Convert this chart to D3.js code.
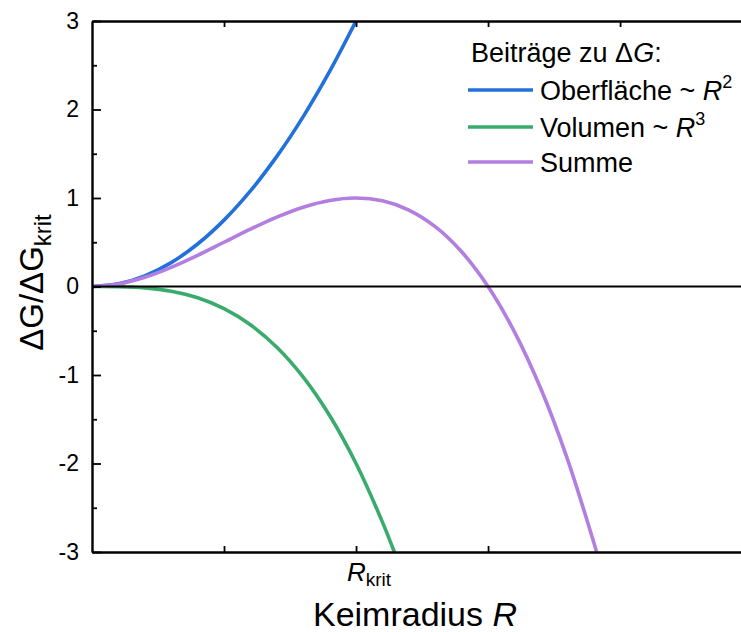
<!DOCTYPE html>
<html>
<head>
<meta charset="utf-8">
<script src="https://cdn.jsdelivr.net/npm/d3@7"></script>
<style>
  body { margin: 0; background: #fff; }
  svg { font-family: "Liberation Sans", Arial, sans-serif; }
</style>
</head>
<body>
<svg id="chart" width="741" height="632"></svg>
<script>
"use strict";

// R / R_krit sample points and values (ΔG / ΔG_krit)
const surfaceR = [0, 0.1, 0.2, 0.3, 0.4, 0.5, 0.6, 0.7, 0.8, 0.9, 1.0];
const surfaceG = [0, 0.03, 0.12, 0.27, 0.48, 0.75, 1.08, 1.47, 1.92, 2.43, 3.0];

const volumeR = [0, 0.1, 0.2, 0.3, 0.4, 0.5, 0.6, 0.7, 0.8, 0.9, 1.0, 1.1, 1.145];
const volumeG = [0, -0.002, -0.016, -0.054, -0.128, -0.25, -0.432, -0.686, -1.024, -1.458, -2.0, -2.662, -3.0];

const sumR = [0, 0.1, 0.2, 0.3, 0.4, 0.5, 0.6, 0.7, 0.8, 0.9, 1.0, 1.1, 1.2, 1.3, 1.4, 1.5, 1.6, 1.7, 1.8, 1.9, 1.911];
const sumG = [0, 0.028, 0.104, 0.216, 0.352, 0.5, 0.648, 0.784, 0.896, 0.972, 1.0, 0.968, 0.864, 0.676, 0.392, 0, -0.512, -1.156, -1.944, -2.888, -3.0];

const yTicks = [-3, -2, -1, 0, 1, 2, 3];
const yMinorTicks = [-2.5, -1.5, -0.5, 0.5, 1.5, 2.5];
const xTopTicks = [0.5, 1, 1.5, 2];
const xBottomTicks = [0.5, 1, 1.5];

const series = [
    {name: "Oberfläche ~ ", sup: "2", r: surfaceR, g: surfaceG, color: "#2270dc"},
    {name: "Volumen ~ ", sup: "3", r: volumeR, g: volumeG, color: "#3aab6c"},
    {name: "Summe", sup: null, r: sumR, g: sumG, color: "#b27ee0"}
];

const margin = {top: 21, right: 0, bottom: 80, left: 92},
    width = 741 - margin.left - margin.right,
    height = 632 - margin.top - margin.bottom;

const svg = d3.select("#chart");
const plot = svg.append("g")
    .attr("transform", `translate(${margin.left},${margin.top})`);

const x = d3.scaleLinear().domain([0, 2.458]).range([0, width]);
const y = d3.scaleLinear().domain([-3, 3]).range([height, 0]);

plot.append("clipPath").attr("id", "clip")
    .append("rect").attr("width", width).attr("height", height);

// curves
const line = d3.line()
    .x((d) => x(d[0]))
    .y((d) => y(d[1]))
    .curve(d3.curveCatmullRom);

series.forEach((s) => {
    plot.append("path")
        .datum(s.r.map((r, i) => [r, s.g[i]]))
        .attr("clip-path", "url(#clip)")
        .attr("fill", "none")
        .attr("stroke", s.color)
        .attr("stroke-width", 3.6)
        .attr("d", line);
});

// zero line
plot.append("line")
    .attr("x1", 0).attr("x2", width)
    .attr("y1", y(0)).attr("y2", y(0))
    .attr("stroke", "#000").attr("stroke-width", 2.2);

// left axis, ticks pointing inward
const yAxis = plot.append("g")
    .call(d3.axisLeft(y).tickValues(yTicks).tickSize(-9).tickSizeOuter(0).tickPadding(13)
        .tickFormat((d) => `${d}`));
yAxis.attr("font-size", null).attr("font-family", null);
yAxis.selectAll("text").style("font-size", "23px");
plot.append("g")
    .call(d3.axisLeft(y).tickValues(yMinorTicks).tickSize(-5).tickSizeOuter(0).tickFormat(""))
    .select(".domain").remove();

// top frame
plot.append("g")
    .call(d3.axisTop(x).tickValues(xTopTicks).tickSize(-6).tickSizeOuter(0).tickFormat(""));

// bottom axis
plot.append("g")
    .attr("transform", `translate(0,${height})`)
    .call(d3.axisBottom(x).tickValues(xBottomTicks).tickSize(-6).tickSizeOuter(0).tickFormat(""));

plot.selectAll(".domain").attr("stroke-width", 2.4);
plot.selectAll(".tick line").attr("stroke-width", 1.8);

// R_krit tick label
const rk = plot.append("text")
    .attr("x", x(1) + 13).attr("y", height + 29)
    .attr("text-anchor", "middle")
    .style("font-size", "26px");
rk.append("tspan").attr("font-style", "italic").text("R");
rk.append("tspan").style("font-size", "19px").attr("dy", 5).text("krit");

// axis titles
const xt = svg.append("text")
    .attr("x", 415).attr("y", 626)
    .attr("text-anchor", "middle")
    .style("font-size", "34px");
xt.append("tspan").text("Keimradius ");
xt.append("tspan").attr("font-style", "italic").text("R");

const yt = svg.append("text")
    .attr("transform", `translate(43,${margin.top + y(0) - 4}) rotate(-90)`)
    .attr("text-anchor", "middle")
    .style("font-size", "33px");
yt.append("tspan").text("ΔG/ΔG");
yt.append("tspan").style("font-size", "24px").attr("dy", 8).text("krit");

// legend
const legend = svg.append("g").attr("transform", "translate(468,0)");
const lt = legend.append("text")
    .attr("x", 3).attr("y", 62)
    .style("font-size", "27px");
lt.append("tspan").text("Beiträge zu Δ");
lt.append("tspan").attr("font-style", "italic").text("G");
lt.append("tspan").text(":");

const rowY = [90, 127, 162];
series.forEach((s, i) => {
    legend.append("line")
        .attr("x1", 0).attr("x2", 65)
        .attr("y1", rowY[i]).attr("y2", rowY[i])
        .attr("stroke", s.color).attr("stroke-width", 3.6);
    const t = legend.append("text")
        .attr("x", 72).attr("y", rowY[i] + 10)
        .style("font-size", "27px");
    t.append("tspan").text(s.name);
    if (s.sup) {
        t.append("tspan").attr("font-style", "italic").text("R");
        t.append("tspan").style("font-size", "18px").attr("dy", -12).text(s.sup);
    }
});
</script>
</body>
</html>
